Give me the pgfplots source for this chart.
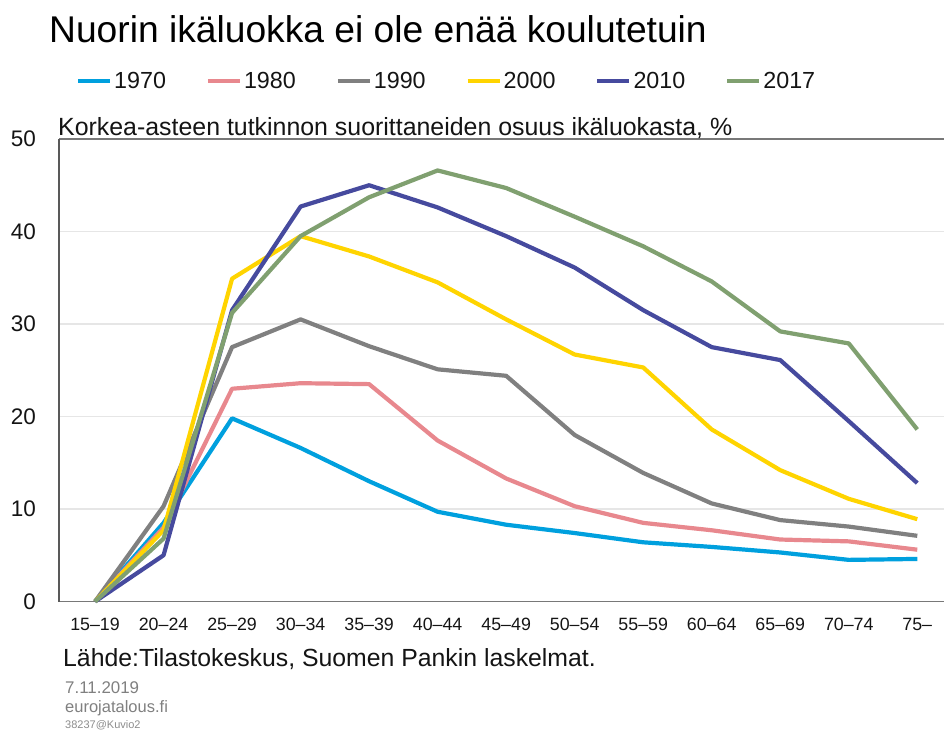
\documentclass[border=0pt]{standalone}
\usepackage{fontspec}
\setmainfont{Liberation Sans}
\usepackage{pgfplots}
\pgfplotsset{compat=1.18}
\definecolor{c1970}{RGB}{0,160,222}
\definecolor{c1980}{RGB}{232,136,142}
\definecolor{c1990}{RGB}{128,128,128}
\definecolor{c2000}{RGB}{255,212,0}
\definecolor{c2010}{RGB}{70,74,158}
\definecolor{c2017}{RGB}{128,160,112}
\definecolor{gridc}{RGB}{230,230,230}
\definecolor{axc}{RGB}{120,120,120}
\definecolor{txt}{RGB}{20,20,20}
\begin{document}
\begin{tikzpicture}
\useasboundingbox (0,0) rectangle (944pt,731pt);
\node[anchor=base west, inner sep=0pt, text=black, font=\fontsize{37.2}{40}\selectfont] at (49pt,688.3pt) {Nuorin ikäluokka ei ole enää koulutetuin};
\begin{axis}[
  scale only axis, width=885pt, height=462.5pt,
  at={(59pt,129.5pt)}, anchor=south west,
  xmin=-0.526, xmax=12.39, ymin=0, ymax=50,
  xtick={0,...,12},
  xticklabels={15–19,20–24,25–29,30–34,35–39,40–44,45–49,50–54,55–59,60–64,65–69,70–74,75–},
  ytick={0,10,20,30,40,50},
  ymajorgrids, grid style={gridc, line width=1.2pt},
  axis line style={draw=none},
  major tick length=0pt, tick style={draw=none},
  clip=false,
  /pgf/number format/assume math mode=true,
  xticklabel style={font=\fontsize{17.8}{20}\selectfont, text=txt, anchor=base, inner sep=0pt, yshift=-29pt},
  yticklabel style={font=\fontsize{22.5}{26}\selectfont, text=txt, anchor=east, inner sep=0pt, xshift=-23pt},
  legend columns=6,
  legend style={draw=none, fill=none, at={(axis description cs:0.0192,1.1254)}, anchor=west,
    inner sep=0pt, outer sep=0pt, font=\fontsize{23.3}{28}\selectfont,
    nodes={inner sep=0pt, text=txt},
    /tikz/every odd column/.append style={column sep=2pt},
    /tikz/every even column/.append style={column sep=39.8pt}},
  legend image code/.code={\draw[#1] (0pt,0pt) -- (32pt,0pt);},
  every axis plot/.append style={line width=4.2pt, line join=round},
]
\draw[axc, line width=1.4pt] (rel axis cs:0,1) -- (rel axis cs:1,1);
\draw[axc, line width=1.4pt] (rel axis cs:0,0) -- (rel axis cs:1,0);
\draw[black!65, line width=1.4pt] (rel axis cs:0,0) -- (rel axis cs:0,1);
\addplot[c1970] coordinates {(0,0) (1,8.5) (2,19.8) (3,16.6) (4,13.0) (5,9.7) (6,8.3) (7,7.4) (8,6.4) (9,5.9) (10,5.3) (11,4.5) (12,4.6)};
\addlegendentry{1970}
\addplot[c1980] coordinates {(0,0) (1,8.0) (2,23.0) (3,23.6) (4,23.5) (5,17.4) (6,13.3) (7,10.3) (8,8.5) (9,7.7) (10,6.7) (11,6.5) (12,5.6)};
\addlegendentry{1980}
\addplot[c1990] coordinates {(0,0) (1,10.3) (2,27.5) (3,30.5) (4,27.6) (5,25.1) (6,24.4) (7,18.0) (8,13.9) (9,10.6) (10,8.8) (11,8.1) (12,7.1)};
\addlegendentry{1990}
\addplot[c2000] coordinates {(0,0) (1,7.7) (2,34.9) (3,39.5) (4,37.3) (5,34.5) (6,30.5) (7,26.7) (8,25.3) (9,18.6) (10,14.2) (11,11.1) (12,8.9)};
\addlegendentry{2000}
\addplot[c2010] coordinates {(0,0) (1,5.0) (2,31.5) (3,42.7) (4,45.0) (5,42.6) (6,39.5) (7,36.1) (8,31.5) (9,27.5) (10,26.1) (11,19.5) (12,12.8)};
\addlegendentry{2010}
\addplot[c2017] coordinates {(0,0) (1,6.8) (2,31.2) (3,39.5) (4,43.7) (5,46.6) (6,44.7) (7,41.6) (8,38.4) (9,34.6) (10,29.2) (11,27.9) (12,18.6)};
\addlegendentry{2017}
\node[anchor=base west, inner sep=0pt, text=txt, font=\fontsize{24.9}{28}\selectfont] at ([xshift=-1pt, yshift=3pt]rel axis cs:0,1) {Korkea-asteen tutkinnon suorittaneiden osuus ikäluokasta, \%};
\end{axis}
\node[anchor=base west, inner sep=0pt, text=txt, font=\fontsize{24.8}{28}\selectfont] at (63pt,65pt) {Lähde:Tilastokeskus, Suomen Pankin laskelmat.};
\node[anchor=base west, inner sep=0pt, text=black!50, font=\fontsize{16.9}{19}\selectfont] at (65pt,38pt) {7.11.2019};
\node[anchor=base west, inner sep=0pt, text=black!50, font=\fontsize{16.5}{19}\selectfont] at (65pt,18.3pt) {eurojatalous.fi};
\node[anchor=base west, inner sep=0pt, text=black!45, font=\fontsize{11}{13}\selectfont] at (65pt,2.5pt) {38237@Kuvio2};
\end{tikzpicture}
\end{document}
